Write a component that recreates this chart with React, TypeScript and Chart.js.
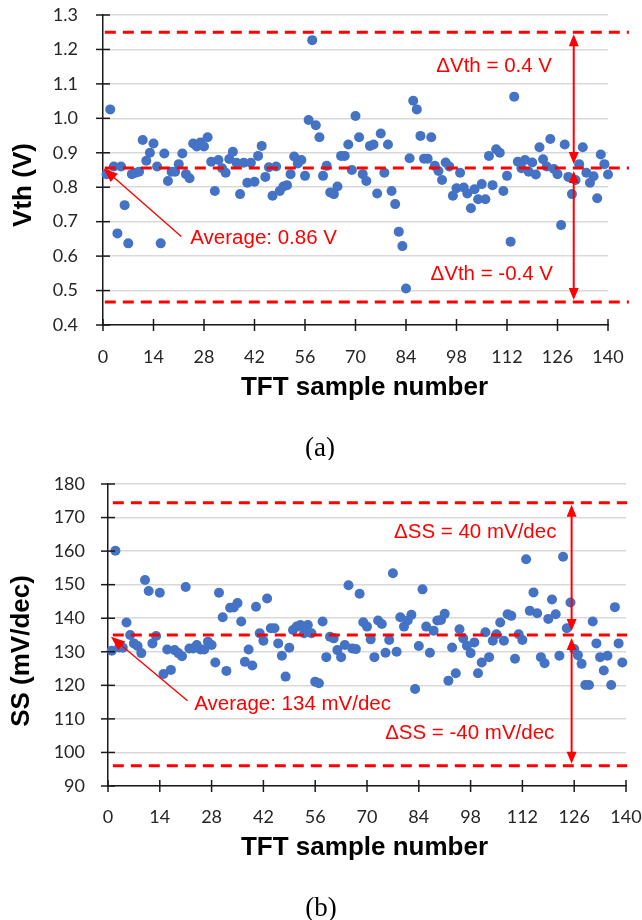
import React, { useEffect, useRef } from "react";
import { Chart, registerables } from "chart.js";
Chart.register(...registerables);

// ---------- DATA ----------
const X_MIN = 0;
const X_MAX = 140;
const X_STEP = 14;

// (a) threshold voltage of each TFT sample (V), samples 1..140
const vthValues = [
  0.838, 1.026, 0.86, 0.666, 0.86, 0.748, 0.637, 0.838, 0.842, 0.845,
  0.937, 0.877, 0.9, 0.927, 0.86, 0.637, 0.898, 0.818, 0.845, 0.845,
  0.867, 0.898, 0.838, 0.826, 0.927, 0.918, 0.93, 0.918, 0.945, 0.874,
  0.789, 0.879, 0.855, 0.842, 0.882, 0.903, 0.871, 0.78, 0.871, 0.813,
  0.871, 0.816, 0.891, 0.92, 0.83, 0.858, 0.775, 0.86, 0.789, 0.802,
  0.806, 0.838, 0.889, 0.869, 0.879, 0.833, 0.995, 1.227, 0.98, 0.945,
  0.833, 0.862, 0.785, 0.78, 0.802, 0.891, 0.891, 0.924, 0.85, 1.007,
  0.945, 0.838, 0.818, 0.92, 0.924, 0.782, 0.956, 0.842, 0.924, 0.789,
  0.751, 0.671, 0.629, 0.506, 0.884, 1.051, 1.026, 0.949, 0.883, 0.883,
  0.945, 0.862, 0.847, 0.821, 0.872, 0.86, 0.775, 0.797, 0.842, 0.799,
  0.782, 0.739, 0.794, 0.765, 0.809, 0.765, 0.891, 0.806, 0.91, 0.9,
  0.789, 0.833, 0.642, 1.063, 0.874, 0.855, 0.879, 0.845, 0.872, 0.837,
  0.916, 0.881, 0.86, 0.94, 0.853, 0.838, 0.69, 0.924, 0.83, 0.78,
  0.821, 0.867, 0.916, 0.842, 0.813, 0.832, 0.768, 0.895, 0.867, 0.837,
];
const vthAxis = { min: 0.4, max: 1.3, step: 0.1, decimals: 1 };
const vthLevels = { upper: 1.25, avg: 0.856, lower: 0.467 };
const vthTexts = ["ΔVth = 0.4 V", "ΔVth = -0.4 V", "Average: 0.86 V"];

// (b) subthreshold swing of each TFT sample (mV/dec)
const ssValues = [
  130.3, 160.1, 131.3, 131.2, 138.7, 135, 132.5, 131.7, 129.6, 151.4,
  148.1, 132.5, 134.7, 147.6, 123.4, 130.7, 124.6, 130.5, 129.6, 128.7,
  149.3, 131, 131, 132, 130.7, 130.7, 133, 132, 126.8, 147.6,
  140.3, 124.3, 143.1, 143.2, 144.5, 139, 127, 130.7, 125.9, 143.4,
  135.5, 133.3, 145.9, 137, 137, 132.5, 128.8, 122.6, 131.2, 136.5,
  137.5, 138, 135.5, 138, 135.5, 121.1, 120.6, 139, 128.4, 134.5,
  134, 130.5, 128.4, 132, 149.8, 131, 130.8, 147.3, 138.8, 137.5,
  133.7, 128.4, 139.3, 138.3, 129.7, 133.5, 153.4, 130, 140.3, 137.5,
  139.3, 141, 118.9, 131.7, 148.6, 137.5, 129.7, 136.3, 139.3, 139.5,
  141.3, 121.4, 131.3, 123.6, 136.7, 134, 131.8, 129.6, 132.8, 123.6,
  126.8, 135.8, 128.4, 133.3, 135.2, 138.7, 133.3, 141.2, 140.7, 127.9,
  135.2, 133.5, 157.6, 142.2, 147.7, 141.5, 128.4, 126.6, 139.8, 145.6,
  141.2, 128.8, 158.3, 137, 144.7, 130.8, 129, 126.4, 120.1, 120.1,
  139, 132.5, 128.4, 124.4, 128.8, 120.1, 143.3, 132.5, 126.8,
];
const ssAxis = { min: 90, max: 180, step: 10, decimals: 0 };
const ssLevels = { upper: 174.4, avg: 135, lower: 96 };
const ssTexts = ["ΔSS = 40 mV/dec", "ΔSS = -40 mV/dec", "Average: 134 mV/dec"];

const xTitle = "TFT sample number";

// ---------- STYLE ----------
const BLUE = "#4472C4";
const RED = "#FF0000";
const AXIS = "#1a1a1a";
const GRID = "#d9d9d9";
const TICK_COLOR = "#262626";
const TICK_FONT = { family: "Lato, 'Open Sans', sans-serif", size: 18 };
const ANNOT_FONT = "20.5px 'Liberation Sans', Arial, sans-serif";
const TITLE_FONT = "bold 26px 'Liberation Sans', Arial, sans-serif";
const CAPTION_FONT = "27px 'Liberation Serif', 'Times New Roman', serif";

type Pt = { x: number; y: number };
type PanelCfg = {
  values: number[];
  axis: { min: number; max: number; step: number; decimals: number };
  levels: { upper: number; avg: number; lower: number };
  texts: string[];
  textPos: Pt[];
  lineX: [number, number];
  vArrowX: number;
  avgArrow: { from: Pt; to: Pt };
  yTitle: string;
  yTitlePos: [number, number];
  caption: string;
  captionPos: [number, number];
  xTitlePos: [number, number];
  padTop: number;
  padRight: number;
  yAxisWidth: number;
  xAxisHeight: number;
  yTickGap: number;
  xTickGap: number;
};

function arrowHead(ctx: CanvasRenderingContext2D, tx: number, ty: number, fx: number, fy: number, len: number, w: number) {
  const a = Math.atan2(ty - fy, tx - fx);
  const bx = tx - len * Math.cos(a);
  const by = ty - len * Math.sin(a);
  ctx.beginPath();
  ctx.moveTo(tx, ty);
  ctx.lineTo(bx + (w / 2) * Math.sin(a), by - (w / 2) * Math.cos(a));
  ctx.lineTo(bx - (w / 2) * Math.sin(a), by + (w / 2) * Math.cos(a));
  ctx.closePath();
  ctx.fill();
}

function arrow(ctx: CanvasRenderingContext2D, x1: number, y1: number, x2: number, y2: number, lw: number, len: number, w: number, both: boolean) {
  const a = Math.atan2(y2 - y1, x2 - x1);
  const sx = both ? x1 + Math.cos(a) * len * 0.7 : x1;
  const sy = both ? y1 + Math.sin(a) * len * 0.7 : y1;
  ctx.lineWidth = lw;
  ctx.beginPath();
  ctx.moveTo(sx, sy);
  ctx.lineTo(x2 - Math.cos(a) * len * 0.7, y2 - Math.sin(a) * len * 0.7);
  ctx.stroke();
  arrowHead(ctx, x2, y2, x1, y1, len, w);
  if (both) arrowHead(ctx, x1, y1, x2, y2, len, w);
}

function makePlugin(cfg: PanelCfg) {
  return {
    id: "panelDecor",
    afterDatasetsDraw(chart: any) {
      const ctx: CanvasRenderingContext2D = chart.ctx;
      const xs = chart.scales.x;
      const ys = chart.scales.y;
      ctx.save();
      // dashed reference lines
      ctx.strokeStyle = RED;
      ctx.lineWidth = 3;
      ctx.setLineDash([11, 7]);
      const x0 = xs.getPixelForValue(cfg.lineX[0]);
      const x1 = xs.getPixelForValue(cfg.lineX[1]);
      [cfg.levels.upper, cfg.levels.avg, cfg.levels.lower].forEach((v) => {
        const py = ys.getPixelForValue(v);
        ctx.beginPath();
        ctx.moveTo(x0, py);
        ctx.lineTo(x1, py);
        ctx.stroke();
      });
      ctx.setLineDash([]);
      // vertical double arrows
      ctx.fillStyle = RED;
      const ax = xs.getPixelForValue(cfg.vArrowX);
      const pu = ys.getPixelForValue(cfg.levels.upper);
      const pa = ys.getPixelForValue(cfg.levels.avg);
      const pl = ys.getPixelForValue(cfg.levels.lower);
      arrow(ctx, ax, pu + 2, ax, pa - 4, 2, 12, 10, true);
      arrow(ctx, ax, pa + 3, ax, pl - 2, 2, 12, 10, true);
      // average arrow
      arrow(
        ctx,
        xs.getPixelForValue(cfg.avgArrow.from.x),
        ys.getPixelForValue(cfg.avgArrow.from.y),
        xs.getPixelForValue(cfg.avgArrow.to.x),
        ys.getPixelForValue(cfg.avgArrow.to.y),
        1.4, 14, 11, false
      );
      // texts
      ctx.font = ANNOT_FONT;
      ctx.textAlign = "left";
      ctx.textBaseline = "middle";
      cfg.texts.forEach((t, i) => {
        ctx.fillText(t, xs.getPixelForValue(cfg.textPos[i].x), ys.getPixelForValue(cfg.textPos[i].y));
      });
      ctx.restore();
    },
    afterDraw(chart: any) {
      const ctx: CanvasRenderingContext2D = chart.ctx;
      const xs = chart.scales.x;
      const ys = chart.scales.y;
      const area = chart.chartArea;
      ctx.save();
      // crossing tick marks
      ctx.strokeStyle = AXIS;
      ctx.lineWidth = 1.5;
      xs.ticks.forEach((t: any) => {
        const px = xs.getPixelForValue(t.value);
        ctx.beginPath();
        ctx.moveTo(px, area.bottom - 6);
        ctx.lineTo(px, area.bottom + 6);
        ctx.stroke();
      });
      ys.ticks.forEach((t: any) => {
        const py = ys.getPixelForValue(t.value);
        ctx.beginPath();
        ctx.moveTo(area.left - 7, py);
        ctx.lineTo(area.left + 7, py);
        ctx.stroke();
      });
      // axis titles
      ctx.fillStyle = "#000";
      ctx.font = TITLE_FONT;
      ctx.textAlign = "center";
      ctx.textBaseline = "middle";
      ctx.fillText(xTitle, cfg.xTitlePos[0], cfg.xTitlePos[1]);
      ctx.save();
      ctx.translate(cfg.yTitlePos[0], cfg.yTitlePos[1]);
      ctx.rotate(-Math.PI / 2);
      ctx.fillText(cfg.yTitle, 0, 0);
      ctx.restore();
      // caption
      ctx.font = CAPTION_FONT;
      ctx.fillText(cfg.caption, cfg.captionPos[0], cfg.captionPos[1]);
      ctx.restore();
    },
  };
}

function Panel({ cfg, top }: { cfg: PanelCfg; top: number }) {
  const ref = useRef<HTMLCanvasElement>(null);
  useEffect(() => {
    if (!ref.current) return;
    const chart = new Chart(ref.current, {
      type: "scatter",
      data: {
        datasets: [
          {
            data: cfg.values.map((v, i) => ({ x: i + 1, y: v })),
            backgroundColor: BLUE,
            borderWidth: 0,
            pointRadius: 5,
            pointHoverRadius: 5,
            clip: false,
          } as any,
        ],
      },
      options: {
        animation: false,
        responsive: false,
        events: [],
        layout: { padding: { left: 0, top: cfg.padTop, right: cfg.padRight, bottom: 0 } },
        plugins: { legend: { display: false }, tooltip: { enabled: false } },
        scales: {
          x: {
            type: "linear",
            min: X_MIN,
            max: X_MAX,
            afterFit: (s: any) => {
              s.height = cfg.xAxisHeight;
            },
            grid: { display: false, drawTicks: true, tickLength: cfg.xTickGap, tickColor: "rgba(0,0,0,0)" },
            border: { display: true, color: AXIS, width: 1.5 },
            ticks: {
              stepSize: X_STEP,
              padding: 0,
              color: TICK_COLOR,
              font: TICK_FONT,
              maxRotation: 0,
              autoSkip: false,
            },
          },
          y: {
            type: "linear",
            min: cfg.axis.min,
            max: cfg.axis.max,
            afterFit: (s: any) => {
              s.width = cfg.yAxisWidth;
            },
            grid: { color: GRID, lineWidth: 1.5, drawTicks: true, tickLength: cfg.yTickGap, tickColor: "rgba(0,0,0,0)" },
            border: { display: true, color: AXIS, width: 1.5 },
            ticks: {
              stepSize: cfg.axis.step,
              padding: 0,
              color: TICK_COLOR,
              font: TICK_FONT,
              callback: (v: any) => Number(v).toFixed(cfg.axis.decimals),
            },
          },
        },
      } as any,
      plugins: [makePlugin(cfg) as any],
    });
    return () => chart.destroy();
  }, [cfg]);
  return (
    <canvas
      ref={ref}
      width={642}
      height={460}
      style={{ position: "absolute", left: 0, top, width: 642, height: 460 }}
    />
  );
}

const panelA: PanelCfg = {
  values: vthValues,
  axis: vthAxis,
  levels: vthLevels,
  texts: vthTexts,
  textPos: [
    { x: 92.4, y: 1.152 },
    { x: 90.8, y: 0.5465 },
    { x: 24.2, y: 0.6525 },
  ],
  lineX: [0.5, 145.8],
  vArrowX: 130.5,
  avgArrow: { from: { x: 21.7, y: 0.657 }, to: { x: 0.2, y: 0.854 } },
  yTitle: "Vth (V)",
  yTitlePos: [24, 185],
  caption: "(a)",
  captionPos: [320, 449],
  xTitlePos: [364.5, 388],
  padTop: 15,
  padRight: 34,
  yAxisWidth: 103,
  xAxisHeight: 135,
  yTickGap: 25,
  xTickGap: 21,
};

const panelB: PanelCfg = {
  values: ssValues,
  axis: ssAxis,
  levels: ssLevels,
  texts: ssTexts,
  textPos: [
    { x: 77.3, y: 165.7 },
    { x: 74.9, y: 105.6 },
    { x: 23.3, y: 114.4 },
  ],
  lineX: [1.3, 140.3],
  vArrowX: 125.3,
  avgArrow: { from: { x: 21.5, y: 115.4 }, to: { x: 0.8, y: 134.5 } },
  yTitle: "SS (mV/dec)",
  yTitlePos: [22, 191],
  caption: "(b)",
  captionPos: [321, 449],
  xTitlePos: [364.5, 388],
  padTop: 24,
  padRight: 16,
  yAxisWidth: 108,
  xAxisHeight: 134,
  yTickGap: 23,
  xTickGap: 20,
};

export default function App() {
  return (
    <div style={{ position: "absolute", left: 0, top: 0, width: 642, height: 920, background: "#fff" }}>
      <Panel cfg={panelA} top={0} />
      <Panel cfg={panelB} top={460} />
    </div>
  );
}
